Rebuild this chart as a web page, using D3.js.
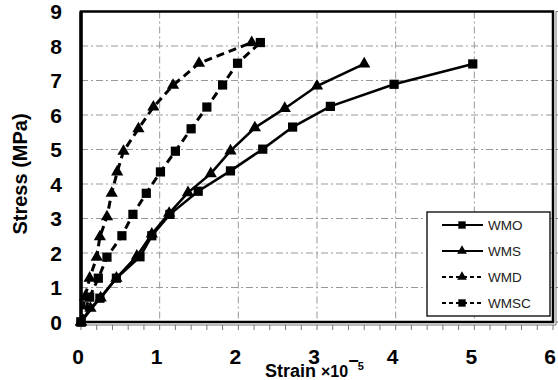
<!DOCTYPE html>
<html>
<head>
<meta charset="utf-8">
<script src="https://cdn.jsdelivr.net/npm/d3@7"></script>
<style>
  body { margin: 0; background: #fff; }
  svg { display: block; font-family: Arial, "Liberation Sans", sans-serif; }
</style>
</head>
<body>
<div id="chart"></div>
<script>
const xTicks = [0, 1, 2, 3, 4, 5, 6];
const yTicks = [0, 1, 2, 3, 4, 5, 6, 7, 8, 9];

const wmoStrain = [0, 0.24, 0.45, 0.75, 0.9, 1.13, 1.49, 1.9, 2.31, 2.69, 3.17, 3.98, 4.98];
const wmoStress = [0, 0.69, 1.27, 1.89, 2.5, 3.12, 3.79, 4.38, 5.01, 5.65, 6.25, 6.89, 7.48];

const wmsStrain = [0, 0.12, 0.25, 0.45, 0.71, 0.9, 1.12, 1.36, 1.65, 1.9, 2.21, 2.59, 3.0, 3.6];
const wmsStress = [0, 0.4, 0.7, 1.27, 1.91, 2.55, 3.15, 3.75, 4.3, 4.96, 5.63, 6.19, 6.84, 7.48];

const wmdStrain = [0, 0.05, 0.11, 0.2, 0.24, 0.33, 0.39, 0.46, 0.54, 0.73, 0.92, 1.17, 1.5, 2.17];
const wmdStress = [0, 0.72, 1.27, 1.88, 2.47, 3.05, 3.73, 4.35, 4.95, 5.6, 6.23, 6.86, 7.5, 8.1];

const wmscStrain = [0, 0.11, 0.22, 0.33, 0.52, 0.66, 0.83, 1.01, 1.2, 1.4, 1.6, 1.8, 1.99, 2.28];
const wmscStress = [0, 0.72, 1.27, 1.88, 2.5, 3.12, 3.73, 4.35, 4.95, 5.6, 6.23, 6.87, 7.5, 8.1];

const seriesNames = ['WMO', 'WMS', 'WMD', 'WMSC'];

const series = [
  { name: seriesNames[0], xs: wmoStrain, ys: wmoStress, dashed: false, marker: 'square' },
  { name: seriesNames[1], xs: wmsStrain, ys: wmsStress, dashed: false, marker: 'triangle' },
  { name: seriesNames[2], xs: wmdStrain, ys: wmdStress, dashed: true, marker: 'triangle' },
  { name: seriesNames[3], xs: wmscStrain, ys: wmscStress, dashed: true, marker: 'square' }
];

const width = 558, height = 380;
const svg = d3.select('#chart').append('svg')
  .attr('width', width)
  .attr('height', height);

const x = d3.scaleLinear().domain([0, 6]).range([81, 553]);
const y = d3.scaleLinear().domain([0, 9]).range([322, 11.5]);

// grid (dash-dot)
const grid = svg.append('g').attr('stroke', '#999').attr('stroke-width', 1)
  .attr('stroke-dasharray', '7,3,2,3');
grid.selectAll('line.vx').data(xTicks.slice(1, -1)).enter().append('line')
  .attr('x1', d => x(d)).attr('x2', d => x(d))
  .attr('y1', y(9)).attr('y2', y(0));
grid.selectAll('line.hy').data(yTicks.slice(1, -1)).enter().append('line')
  .attr('x1', x(0)).attr('x2', x(6))
  .attr('y1', d => y(d)).attr('y2', d => y(d));

// outer gray axis lines + ticks (bottom & right)
const outer = svg.append('g').attr('stroke', '#777').attr('stroke-width', 1);
outer.append('line').attr('x1', x(0)).attr('x2', x(6) + 3).attr('y1', y(0) + 3).attr('y2', y(0) + 3);
outer.append('line').attr('x1', x(6) + 3).attr('x2', x(6) + 3).attr('y1', y(9)).attr('y2', y(0) + 3);
outer.selectAll('line.mx').data(d3.range(0, 31).map(i => i * 0.2)).enter().append('line')
  .attr('x1', d => x(d)).attr('x2', d => x(d))
  .attr('y1', y(0) + 3).attr('y2', y(0) + 8);
outer.selectAll('line.my').data(yTicks).enter().append('line')
  .attr('x1', x(6) + 3).attr('x2', x(6) + 7)
  .attr('y1', d => y(d)).attr('y2', d => y(d));

// frame
svg.append('rect')
  .attr('x', x(0)).attr('y', y(9))
  .attr('width', x(6) - x(0)).attr('height', y(0) - y(9))
  .attr('fill', 'none').attr('stroke', '#000').attr('stroke-width', 2.5);
svg.append('line')
  .attr('x1', x(0)).attr('x2', x(0)).attr('y1', y(9)).attr('y2', y(0))
  .attr('stroke', '#000').attr('stroke-width', 3.5);

// tick labels
svg.append('g').selectAll('text').data(yTicks).enter().append('text')
  .attr('x', 62).attr('y', d => y(d) + 7.5)
  .attr('text-anchor', 'end')
  .attr('font-size', 21).attr('font-weight', 'bold')
  .text(d => d);
svg.append('g').selectAll('text').data(xTicks).enter().append('text')
  .attr('x', d => x(d) - 3).attr('y', 364)
  .attr('text-anchor', 'middle')
  .attr('font-size', 21).attr('font-weight', 'bold')
  .text(d => d);

// axis titles
svg.append('text')
  .attr('transform', 'translate(26.5,174) rotate(-90)')
  .attr('text-anchor', 'middle')
  .attr('font-size', 20).attr('font-weight', 'bold')
  .text('Stress (MPa)');

const xt = svg.append('text').attr('x', 265).attr('y', 377)
  .attr('font-size', 18).attr('font-weight', 'bold');
xt.append('tspan').text('Strain');
xt.append('tspan').attr('dx', 5).attr('font-size', 16).text('\u00d710');
xt.append('tspan').attr('dy', -10).attr('font-size', 18).text('\u2212');
xt.append('tspan').attr('dy', 3).attr('dx', -1).attr('font-size', 11).text('5');

// markers
const sqSym = d3.symbol().type(d3.symbolSquare).size(85);
const triSym = d3.symbol().type(d3.symbolTriangle).size(65);
function markerPath(kind) { return kind === 'square' ? sqSym() : triSym(); }

const line = d3.line().x(d => x(d[0])).y(d => y(d[1]));

series.forEach(s => {
  const pts = s.xs.map((v, i) => [v, s.ys[i]]);
  svg.append('path')
    .datum(pts)
    .attr('d', line)
    .attr('fill', 'none')
    .attr('stroke', '#000')
    .attr('stroke-width', s.dashed ? 3 : 2.6)
    .attr('stroke-dasharray', s.dashed ? '8,5' : null);
  svg.append('g').selectAll('path').data(pts).enter().append('path')
    .attr('d', markerPath(s.marker))
    .attr('transform', d => `translate(${x(d[0])},${y(d[1])})`)
    .attr('fill', '#000');
});

// legend
const lg = svg.append('g');
lg.append('rect')
  .attr('x', 427).attr('y', 212).attr('width', 123).attr('height', 104)
  .attr('fill', '#fff').attr('stroke', '#222').attr('stroke-width', 1.5);
const rowY = [225, 251, 277, 303];
series.forEach((s, i) => {
  lg.append('line')
    .attr('x1', 442).attr('x2', 483)
    .attr('y1', rowY[i]).attr('y2', rowY[i])
    .attr('stroke', '#000').attr('stroke-width', 2)
    .attr('stroke-dasharray', s.dashed ? '4,3' : null);
  lg.append('path')
    .attr('d', markerPath(s.marker))
    .attr('transform', `translate(462,${rowY[i]}) scale(0.8)`)
    .attr('fill', '#000');
  lg.append('text')
    .attr('x', 488).attr('y', rowY[i] + 5)
    .attr('font-size', 13.5).attr('fill', '#222')
    .text(s.name);
});
</script>
</body>
</html>
